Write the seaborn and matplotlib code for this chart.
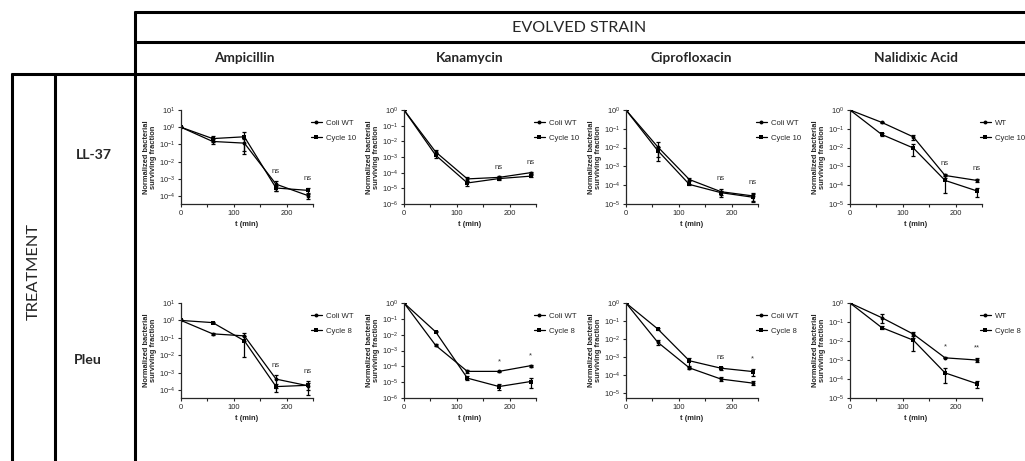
import pandas as pd
import seaborn as sns
import matplotlib.pyplot as plt
from matplotlib.lines import Line2D
from matplotlib.ticker import LogLocator, LogFormatterSciNotation, FixedLocator, NullFormatter

# time points (min)
times = [0, 60, 120, 180, 240]

# ---- LL-37 row ----
amp_ll37_wt = [1, 0.15, 0.12, 5e-4, 1.1e-4]
amp_ll37_wt_sd = [0, 0.05, 0.08, 3e-4, 4e-5]
amp_ll37_cyc = [1, 0.22, 0.28, 3e-4, 2.2e-4]
amp_ll37_cyc_sd = [0, 0.08, 0.25, 1e-4, 8e-5]

kan_ll37_wt = [1, 2.1e-3, 4e-5, 5e-5, 1e-4]
kan_ll37_wt_sd = [0, 5e-4, 1e-5, 8e-6, 1.5e-5]
kan_ll37_cyc = [1, 1.3e-3, 2.2e-5, 4.2e-5, 6e-5]
kan_ll37_cyc_sd = [0, 4e-4, 8e-6, 6e-6, 8e-6]

cip_ll37_wt = [1, 1.1e-2, 2e-4, 4.5e-5, 2.7e-5]
cip_ll37_wt_sd = [0, 9e-3, 4e-5, 2e-5, 1.2e-5]
cip_ll37_cyc = [1, 7e-3, 1.1e-4, 4e-5, 2.3e-5]
cip_ll37_cyc_sd = [0, 4e-3, 1e-5, 1e-5, 1e-5]

nal_ll37_wt = [1, 0.22, 0.037, 3.3e-4, 1.8e-4]
nal_ll37_wt_sd = [0, 0.02, 0.012, 8e-5, 4e-5]
nal_ll37_cyc = [1, 0.05, 0.0095, 1.8e-4, 5e-5]
nal_ll37_cyc_sd = [0, 0.008, 0.006, 1.4e-4, 2.5e-5]

# ---- Pleu row ----
amp_pleu_wt = [1, 0.17, 0.13, 4.3e-4, 1.8e-4]
amp_pleu_wt_sd = [0, 0.03, 0.06, 3e-4, 8e-5]
amp_pleu_cyc = [1, 0.75, 0.068, 1.6e-4, 1.9e-4]
amp_pleu_cyc_sd = [0, 0.05, 0.06, 8e-5, 1.4e-4]

kan_pleu_wt = [1, 2.1e-3, 4.8e-5, 4.8e-5, 1.1e-4]
kan_pleu_wt_sd = [0, 3e-4, 1e-5, 6e-6, 2e-5]
kan_pleu_cyc = [1, 0.015, 1.8e-5, 5.3e-6, 1.1e-5]
kan_pleu_cyc_sd = [0, 1e-3, 5e-6, 2e-6, 7e-6]

cip_pleu_wt = [1, 6.5e-3, 2.4e-4, 5.7e-5, 3.4e-5]
cip_pleu_wt_sd = [0, 2e-3, 3e-5, 1.5e-5, 8e-6]
cip_pleu_cyc = [1, 0.036, 6e-4, 2.3e-4, 1.5e-4]
cip_pleu_cyc_sd = [0, 3e-3, 3e-4, 4e-5, 6e-5]

nal_pleu_wt = [1, 0.17, 0.023, 1.3e-3, 1e-3]
nal_pleu_wt_sd = [0, 0.08, 0.008, 1e-4, 2.5e-4]
nal_pleu_cyc = [1, 0.051, 0.011, 2.1e-4, 5.7e-5]
nal_pleu_cyc_sd = [0, 0.01, 0.008, 1.5e-4, 2.5e-5]

antibiotics = ['Ampicillin', 'Kanamycin', 'Ciprofloxacin', 'Nalidixic Acid']
treatments = ['LL-37', 'Pleu']
sig_ll37 = [['ns', 'ns'], ['ns', 'ns'], ['ns', 'ns'], ['ns', 'ns']]
sig_pleu = [['ns', 'ns'], ['*', '*'], ['ns', '*'], ['*', '**']]

sns.set_style('ticks')
plt.rcParams['font.family'] = ['Liberation Sans', 'DejaVu Sans']

W, H = 1025, 461
fig = plt.figure(figsize=(W / 100, H / 100), dpi=100)


def fx(px):
    return px / W


def fy(py):
    return 1 - py / H


# table frame
def hline(y, x0, x1):
    fig.add_artist(Line2D([fx(x0), fx(x1)], [fy(y), fy(y)], transform=fig.transFigure,
                          color='black', lw=2.2, solid_capstyle='butt'))


def vline(x, y0, y1):
    fig.add_artist(Line2D([fx(x), fx(x)], [fy(y0), fy(y1)], transform=fig.transFigure,
                          color='black', lw=2.2, solid_capstyle='butt'))


hline(12, 134, W)
hline(42, 134, W)
hline(74, 11, W)
vline(135, 11, H)
vline(12, 73, H)
vline(55, 73, H)

head_font = ['Lato', 'DejaVu Sans']
fig.text(fx(579), fy(28), 'EVOLVED STRAIN', ha='center', va='center', fontsize=11.6, family=head_font)
for name, cx in zip(antibiotics, [244, 470, 691, 916]):
    fig.text(fx(cx), fy(58), name, ha='center', va='center', fontsize=9.8, fontweight='bold', family=head_font)
fig.text(fx(34), fy(271), 'TREATMENT', ha='center', va='center', rotation=90, fontsize=11.8, family=head_font)
fig.text(fx(94), fy(155), treatments[0], ha='center', va='center', fontsize=10.2, fontweight='bold', family=head_font)
fig.text(fx(88), fy(360), treatments[1], ha='center', va='center', fontsize=10.2, fontweight='bold', family=head_font)

panels = [
    (0, 0, amp_ll37_wt, amp_ll37_wt_sd, amp_ll37_cyc, amp_ll37_cyc_sd, 'Coli WT', 'Cycle 10', (-4.45, 1)),
    (0, 1, kan_ll37_wt, kan_ll37_wt_sd, kan_ll37_cyc, kan_ll37_cyc_sd, 'Coli WT', 'Cycle 10', (-6, 0)),
    (0, 2, cip_ll37_wt, cip_ll37_wt_sd, cip_ll37_cyc, cip_ll37_cyc_sd, 'Coli WT', 'Cycle 10', (-5, 0)),
    (0, 3, nal_ll37_wt, nal_ll37_wt_sd, nal_ll37_cyc, nal_ll37_cyc_sd, 'WT', 'Cycle 10', (-5, 0)),
    (1, 0, amp_pleu_wt, amp_pleu_wt_sd, amp_pleu_cyc, amp_pleu_cyc_sd, 'Coli WT', 'Cycle 8', (-4.45, 1)),
    (1, 1, kan_pleu_wt, kan_pleu_wt_sd, kan_pleu_cyc, kan_pleu_cyc_sd, 'Coli WT', 'Cycle 8', (-6, 0)),
    (1, 2, cip_pleu_wt, cip_pleu_wt_sd, cip_pleu_cyc, cip_pleu_cyc_sd, 'Coli WT', 'Cycle 8', (-5.3, 0)),
    (1, 3, nal_pleu_wt, nal_pleu_wt_sd, nal_pleu_cyc, nal_pleu_cyc_sd, 'WT', 'Cycle 8', (-5, 0)),
]

col_left = [181, 404, 626, 850]
row_top = [110, 303]
row_h = [94, 95]
ax_w = 132

for row, col, wt, wt_sd, cyc, cyc_sd, lab_wt, lab_cyc, ylim in panels:
    ax = fig.add_axes([fx(col_left[col]), fy(row_top[row] + row_h[row]), ax_w / W, row_h[row] / H])
    df = pd.DataFrame({
        't': times * 2,
        'value': wt + cyc,
        'strain': [lab_wt] * len(times) + [lab_cyc] * len(times),
    })
    sns.lineplot(data=df, x='t', y='value', hue='strain', style='strain',
                 markers=['o', 's'], dashes=False, palette=['black', 'black'],
                 linewidth=0.9, markersize=2.8, markeredgewidth=0, ax=ax)
    ax.errorbar(times, wt, yerr=wt_sd, fmt='none', ecolor='black', elinewidth=0.9, capsize=1.6, capthick=0.9)
    ax.errorbar(times, cyc, yerr=cyc_sd, fmt='none', ecolor='black', elinewidth=0.9, capsize=1.6, capthick=0.9)
    ax.set_yscale('log')
    ax.set_ylim(10 ** ylim[0], 10 ** ylim[1])
    ax.set_xlim(0, 250)
    ax.yaxis.set_major_locator(LogLocator(base=10, numticks=20))
    ax.yaxis.set_major_formatter(LogFormatterSciNotation())
    ax.yaxis.set_minor_locator(FixedLocator([]))
    ax.yaxis.set_minor_formatter(NullFormatter())
    ax.xaxis.set_major_locator(FixedLocator([0, 100, 200]))
    ax.xaxis.set_minor_locator(FixedLocator([50, 150, 250]))
    ax.tick_params(which='both', direction='out', length=2.5, width=0.8, labelsize=5.4, pad=1.5)
    for s in ['top', 'right']:
        ax.spines[s].set_visible(False)
    for s in ['left', 'bottom']:
        ax.spines[s].set_linewidth(0.9)
    ax.set_xlabel('t (min)', fontsize=5.4, fontweight='bold', labelpad=3)
    ax.set_ylabel('Normalized bacterial\nsurviving fraction', fontsize=5.4, fontweight='bold', labelpad=1.5, linespacing=1.0)
    handles, labels = ax.get_legend_handles_labels()
    ax.legend(handles, labels, loc='upper left', bbox_to_anchor=(0.96, 0.93), frameon=False,
              fontsize=5.6, handlelength=1.4, handletextpad=0.5, labelspacing=0.9, borderaxespad=0)
    sig = (sig_ll37 if row == 0 else sig_pleu)[col]
    for k, t in enumerate(times[3:]):
        i = 3 + k
        top = max(wt[i] + wt_sd[i], cyc[i] + cyc_sd[i])
        ax.text(t, top * 2.2, sig[k], ha='center', va='bottom', fontsize=5.6, color='#333333')

fig.savefig('out.png', dpi=100)
